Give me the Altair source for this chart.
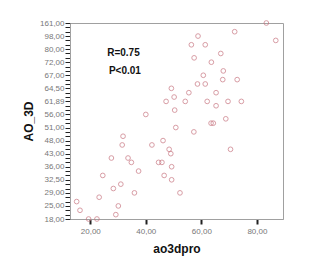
import altair as alt
import pandas as pd

# y categories (top to bottom) of the ordinal AO_3D axis
y_cats = [161, 120, 100, 98, 90, 85, 80, 78, 75, 72, 70, 68, 67, 66, 65, 64.5,
          63, 62, 61.89, 60, 58, 56, 54, 52, 51, 50, 49, 48, 46, 45, 43, 40, 38,
          36, 35, 34, 32.5, 31, 30, 29, 28, 27, 25, 23, 20, 18]
y_labeled = [161, 98, 80, 72, 67, 64.5, 61.89, 56, 51, 48, 43, 36, 32.5, 29, 25, 18]

# scatter points
ao3dpro = [83.4, 72.0, 86.8, 58.8, 56.4, 61.4, 67.0, 57.4, 63.6, 67.9, 60.7, 67.7,
           72.9, 58.6, 61.4, 49.2, 55.5, 65.3, 50.2, 47.3, 54.2, 62.1, 69.6, 74.4,
           65.3, 50.4, 40.0, 68.8, 63.5, 64.3, 50.8, 57.3, 31.8, 46.2, 31.5, 42.2,
           48.4, 70.5, 49.0, 27.6, 33.6, 34.8, 44.6, 45.8, 49.3, 37.4, 24.5, 46.6,
           49.3, 31.0, 28.3, 35.9, 52.3, 23.2, 15.1, 30.1, 16.3, 29.2, 19.4, 22.4]
ao_3d = [161, 100, 90, 98, 85, 85, 78, 75, 72, 68, 67, 66,
         66, 65, 65, 64.5, 63, 63, 62, 61.89, 61.89, 61.89, 61.89, 61.89,
         60, 58, 56, 54, 52, 52, 51, 50, 49, 48, 46, 46,
         45, 45, 43, 40, 40, 38, 38, 38, 36, 35, 34, 34,
         32.5, 31, 30, 29, 29, 28, 27, 25, 23, 20, 18, 18]

ann_text = ["R=0.75", "P<0.01"]
ann_x = [26.1, 26.7]
ann_y = [78, 68]


def lab(v):
    return f"{v:.2f}".replace(".", ",")


cat_labels = [lab(v) for v in y_cats]
shown = [lab(v) for v in y_labeled]

df = pd.DataFrame({"ao3dpro": ao3dpro, "AO_3D": [lab(v) for v in ao_3d]})
ann = pd.DataFrame({"t": ann_text, "x": ann_x, "y": [lab(v) for v in ann_y]})

label_expr = "indexof([" + ",".join(f"'{s}'" for s in shown) + "], datum.label) >= 0 ? datum.label : ''"

xscale = alt.Scale(domain=[12.7, 89.4], nice=False, zero=False)
yscale = alt.Scale(domain=cat_labels, type="point", padding=0)

FONT = "Liberation Sans"

points = alt.Chart(df).mark_point(
    shape="circle", filled=False, size=22, strokeWidth=1, color="#c8747f"
).encode(
    x=alt.X("ao3dpro:Q", scale=xscale, title="ao3dpro",
            axis=alt.Axis(values=[20, 40, 60, 80], grid=False,
                          labelExpr="replace(format(datum.value, '.2f'), '.', ',')",
                          tickSize=5, tickWidth=2, tickColor="#222",
                          domainColor="#a0a0a0", labelColor="#777",
                          labelFontSize=8, labelFont=FONT, labelPadding=3,
                          titleFont=FONT, titleFontSize=12, titleFontWeight="bold",
                          titleColor="#111", titlePadding=8)),
    y=alt.Y("AO_3D:O", scale=yscale, title="AO_3D",
            axis=alt.Axis(grid=False, labelExpr=label_expr,
                          tickSize=5, tickWidth=1, tickColor="#222",
                          domainColor="#a0a0a0", labelColor="#777",
                          labelFontSize=8, labelFont=FONT, labelPadding=1,
                          labelOverlap=False,
                          titleFont=FONT, titleFontSize=12, titleFontWeight="bold",
                          titleColor="#111", titlePadding=4)),
)

texts = alt.Chart(ann).mark_text(
    align="left", baseline="middle", fontSize=10, fontWeight="bold",
    font=FONT, color="#111"
).encode(
    x=alt.X("x:Q", scale=xscale),
    y=alt.Y("y:O", scale=yscale),
    text="t:N",
)

chart = alt.layer(points, texts).properties(
    width=213, height=196,
    autosize=alt.AutoSizeParams(type="none"),
    padding={"left": 62, "top": 15, "right": 30, "bottom": 40},
    background="white",
).configure_view(stroke="#a0a0a0", strokeWidth=1)

chart.save("out.html", embed_options={"renderer": "svg", "actions": False})
